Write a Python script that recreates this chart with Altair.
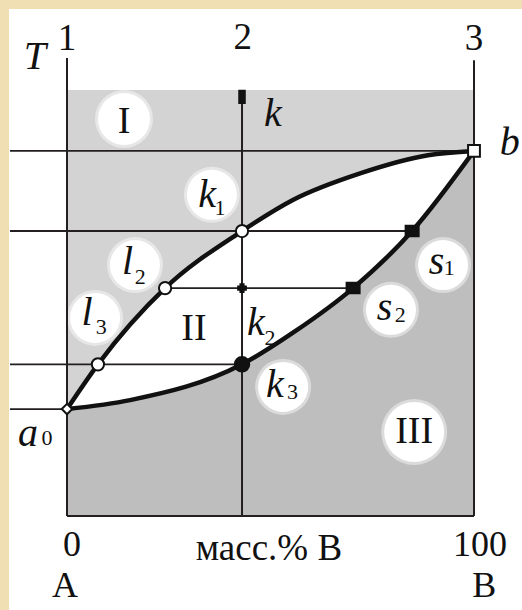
import altair as alt
import pandas as pd

W, H = 522, 610

# Pixel placement of the composition axis (0 and 100 mass % B) and of the
# temperature axis (0 and 100 in relative units).
PX0, PX100 = 67, 474
PY0, PY100 = 516, 90

kx = (PX100 - PX0) / 100
ky = (PY0 - PY100) / 100
X_DOMAIN = [(0 - PX0) / kx, (W - PX0) / kx]
Y_DOMAIN = [(PY0 - H) / ky, (PY0 - 0) / ky]

# Liquidus line a0 - l3 - l2 - k1 - b
liq_x = [0, 7.6, 24.1, 43.0, 55.5, 72.2, 88.7, 100]
liq_t = [25.1, 35.6, 53.5, 66.9, 74.2, 80.5, 84.7, 85.7]

# Solidus line a0 - k3 - s2 - s1 - b
sol_x = [0, 15.5, 43.0, 55.8, 70.3, 84.8, 100]
sol_t = [25.1, 27.2, 35.6, 43.2, 53.5, 66.9, 85.7]

# Horizontal isotherms (tie lines)
tie_x1 = [-14.0, -14.0, 24.1, -14.0, -14.0]
tie_x2 = [100, 84.8, 70.3, 43.0, 0]
tie_t = [85.7, 66.9, 53.5, 35.6, 25.1]

# Vertical composition lines 1, 2, 3
vert_x = [0, 43.0, 100]
vert_top = [107.5, 98.4, 107.0]

# Marked points
pt_name = ["a0", "l3", "l2", "k1", "b", "k3", "s2", "s1", "k", "m"]
pt_x = [0, 7.6, 24.1, 43.0, 100, 43.0, 70.3, 84.8, 43.0, 43.0]
pt_t = [25.1, 35.6, 53.5, 66.9, 85.7, 35.6, 53.5, 66.9, 98.4, 53.5]
BARS = "M-1,-0.8H1V-0.35H-1Z M-1,-0.12H1V0.12H-1Z M-1,0.35H1V0.8H-1Z"
pt_shape = ["diamond", "circle", "circle", "circle", "square", "circle",
            BARS, BARS, "M-0.45,-1H0.45V1H-0.45Z", "cross"]
pt_fill = ["white", "white", "white", "white", "white", "#111",
           "#111", "#111", "#111", "#111"]
pt_size = [110, 150, 150, 150, 140, 210, 170, 170, 150, 60]

# White discs behind region / point labels
halo_x = [14.0, 35.6, 16.7, 6.9, 53.1, 79.6, 92.4, 85.3]
halo_t = [93.2, 75.4, 58.9, 46.5, 30.3, 48.4, 58.9, 19.7]
halo_d = [52, 50, 50, 50, 50, 50, 50, 60]

# Italic symbols
it_text = ["T", "k", "k", "l", "l", "k", "k", "s", "s", "b", "a"]
it_x = [-7.9, 50.6, 34.4, 14.9, 4.9, 46.4, 51.1, 78.0, 90.8, 108.8, -9.6]
it_t = [107.7, 94.4, 75.4, 59.6, 47.7, 45.3, 30.8, 48.8, 59.6, 87.6, 19.2]

# Subscripts
sub_text = ["1", "2", "3", "2", "3", "2", "1", "0"]
sub_x = [37.6, 18.0, 8.4, 49.9, 55.4, 81.9, 93.9, -4.9]
sub_t = [72.3, 56.1, 44.3, 41.9, 29.0, 47.2, 58.3, 18.3]

# Upright labels: phase fields, line numbers, composition axis
rm_text = ["I", "II", "III", "1", "2", "3", "0", "100", "масс.% B", "A", "B"]
rm_x = [14.0, 31.2, 85.3, 0, 43.2, 100, 1.2, 101.5, 49.6, -0.5, 102.5]
rm_t = [92.5, 43.9, 19.7, 112.0, 112.2, 112.0, -6.8, -6.8, -7.7, -16.5, -16.5]
rm_size = [38, 38, 38, 37, 37, 37, 36, 36, 37, 36, 36]

LIGHT = "#d3d3d3"
DARK = "#bebebe"
INK = "#231f20"
FONT = "Liberation Serif"

xs = alt.Scale(domain=X_DOMAIN, nice=False, zero=False)
ys = alt.Scale(domain=Y_DOMAIN, nice=False, zero=False)


def X(f):
    return alt.X(f, type="quantitative", scale=xs, axis=None)


def Y(f):
    return alt.Y(f, type="quantitative", scale=ys, axis=None)


liq = pd.DataFrame({"x": liq_x, "t": liq_t, "base": 0.0})
sol = pd.DataFrame({"x": sol_x, "t": sol_t, "base": 0.0})
ties = pd.DataFrame({"x1": tie_x1, "x2": tie_x2, "t": tie_t})
verts = pd.DataFrame({"x": vert_x, "top": vert_top, "bot": 0.0})
pts = pd.DataFrame({"name": pt_name, "x": pt_x, "t": pt_t, "shape": pt_shape,
                    "fill": pt_fill, "size": pt_size})
halos = pd.DataFrame({"x": halo_x, "t": halo_t,
                      "size": [d * d for d in halo_d],
                      "size2": [(d + 6) ** 2 for d in halo_d]})
ital = pd.DataFrame({"text": it_text, "x": it_x, "t": it_t})
subs = pd.DataFrame({"text": sub_text, "x": sub_x, "t": sub_t})
roman = pd.DataFrame({"text": rm_text, "x": rm_x, "t": rm_t, "fs": rm_size})
field = pd.DataFrame({"x1": [0], "x2": [100], "t1": [0], "t2": [100]})

panel = alt.Chart(field).mark_rect(color="white").encode(
    x=alt.value(9), x2=alt.value(W), y=alt.value(9), y2=alt.value(H))

gray = alt.Chart(field).mark_rect(color=LIGHT).encode(
    x=X("x1"), x2="x2", y=Y("t1"), y2="t2")

liq_fill = alt.Chart(liq).mark_area(interpolate="monotone", color="white").encode(
    x=X("x"), y=Y("t"), y2="base")
sol_fill = alt.Chart(sol).mark_area(interpolate="monotone", color=DARK).encode(
    x=X("x"), y=Y("t"), y2="base")

halo_soft = alt.Chart(halos).mark_point(filled=True, shape="circle", color="white",
                                        opacity=0.45).encode(
    x=X("x"), y=Y("t"), size=alt.Size("size2:Q", scale=None))
halo = alt.Chart(halos).mark_point(filled=True, shape="circle", color="white",
                                   opacity=1).encode(
    x=X("x"), y=Y("t"), size=alt.Size("size:Q", scale=None))

bottom = alt.Chart(field).mark_rule(color=INK, strokeWidth=2).encode(
    x=X("x1"), x2="x2", y=Y("t1"))
tie_rules = alt.Chart(ties).mark_rule(color=INK, strokeWidth=1.8).encode(
    x=X("x1"), x2="x2", y=Y("t"))
vert_rules = alt.Chart(verts).mark_rule(color=INK, strokeWidth=2).encode(
    x=X("x"), y=Y("top"), y2="bot")

liq_line = alt.Chart(liq).mark_line(interpolate="monotone", color="#111",
                                    strokeWidth=4.5).encode(x=X("x"), y=Y("t"))
sol_line = alt.Chart(sol).mark_line(interpolate="monotone", color="#111",
                                    strokeWidth=4.5).encode(x=X("x"), y=Y("t"))

points = alt.Chart(pts).mark_point(filled=True, stroke="#111", strokeWidth=2,
                                   opacity=1).encode(
    x=X("x"), y=Y("t"),
    shape=alt.Shape("shape:N", scale=None),
    fill=alt.Fill("fill:N", scale=None),
    size=alt.Size("size:Q", scale=None))

ital_text = alt.Chart(ital).mark_text(font=FONT, fontStyle="italic", fontSize=40,
                                      color="#111", align="center",
                                      baseline="middle").encode(
    x=X("x"), y=Y("t"), text="text:N")
sub_texts = alt.Chart(subs).mark_text(font=FONT, fontSize=22, color="#111",
                                      align="center", baseline="middle").encode(
    x=X("x"), y=Y("t"), text="text:N")
roman_text = alt.Chart(roman).mark_text(font=FONT, color="#111", align="center",
                                        baseline="middle").encode(
    x=X("x"), y=Y("t"), text="text:N", size=alt.Size("fs:Q", scale=None))

chart = alt.layer(
    panel, gray, liq_fill, sol_fill, halo_soft, halo,
    bottom, tie_rules, vert_rules, liq_line, sol_line, points,
    ital_text, sub_texts, roman_text,
).properties(
    width=W, height=H, padding=0, autosize=alt.AutoSizeParams(type="none"),
    background="#efdfb2",
).configure_view(strokeWidth=0)

chart.save("out.html", embed_options={"renderer": "svg", "actions": False})
